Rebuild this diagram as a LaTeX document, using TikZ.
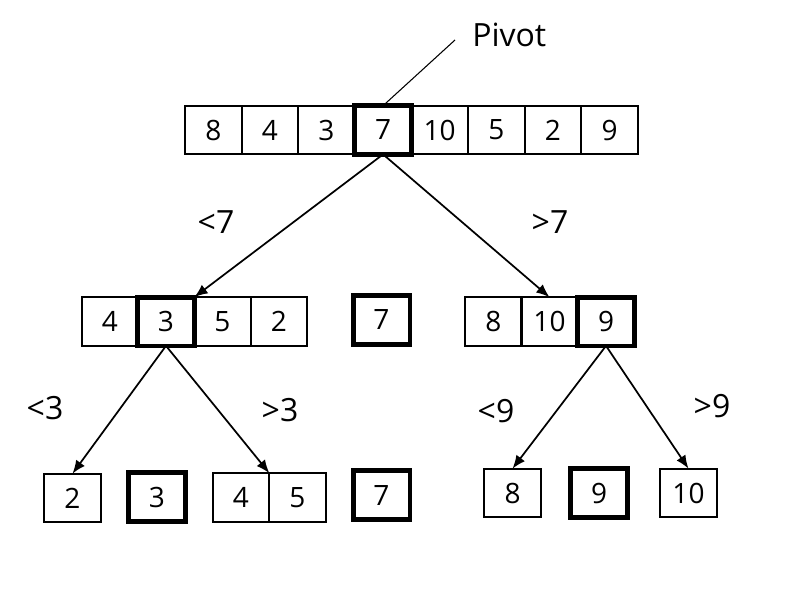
\documentclass[tikz,border=0pt]{standalone}
\usepackage{fontspec}
\setmainfont{Open Sans}
\usetikzlibrary{arrows.meta}
\tikzset{
	cell/.style={
			draw, line width=1.5pt, minimum width=42.5pt, minimum height=36.5pt,
			inner sep=0pt, outer sep=0pt, font=\fontsize{21}{25}\selectfont
		},
	pivotcell/.style={cell, line width=3.5pt},
	cmp/.style={font=\fontsize{24}{28}\selectfont},
	split/.style={-{Latex[length=10pt,width=8pt]}, line width=1.3pt}
}

\begin{document}
\begin{tikzpicture}[x=0.75pt, y=-0.75pt]
	\useasboundingbox (0,0) rectangle (786,593);

	% whole array
	\node[cell] (t1) at (213.3,130) {8};
	\node[cell] (t2) at (269.9,130) {4};
	\node[cell] (t3) at (326.5,130) {3};
	\node[cell] (t5) at (439.7,130) {10};
	\node[cell] (t6) at (496.3,130) {5};
	\node[cell] (t7) at (552.9,130) {2};
	\node[cell] (t8) at (609.5,130) {9};
	\node[pivotcell] (t4) at (383.1,130) {7};

	\node[font=\fontsize{24}{28}\selectfont, anchor=base west, inner sep=0pt] (pivot) at (472,46) {Pivot};
	\coordinate (tag) at (455,40);
	\draw[line width=0.8pt] (t4.north) -- (tag);

	% first split
	\node[cell] (ml1) at (110,321.5) {4};
	\node[cell] (ml3) at (222.5,321.5) {5};
	\node[cell] (ml4) at (279,321.5) {2};
	\node[pivotcell] (ml2) at (166,321.5) {3};
	\node[pivotcell] (mp) at (381.5,320) {7};
	\node[cell] (mr1) at (493.5,321.5) {8};
	\node[cell] (mr2) at (549.5,321.5) {10};
	\node[pivotcell] (mr3) at (606,321.5) {9};

	\draw[split] (t4.south) -- (ml2.north east);
	\draw[split] (t4.south) -- (mr2.north);
	\node[cmp] (lt7) at (216,222) {<7};
	\node[cmp] (gt7) at (550,222) {>7};

	% second split
	\node[cell] (bl1) at (72.5,498) {2};
	\node[pivotcell] (bp3) at (157,497) {3};
	\node[cell] (bm1) at (241,497.5) {4};
	\node[cell] (bm2) at (297.5,497.5) {5};
	\node[pivotcell] (bp7) at (381.5,495) {7};
	\node[cell] (br1) at (512.5,493) {8};
	\node[pivotcell] (bp9) at (599,493) {9};
	\node[cell] (br3) at (688.5,493) {10};

	\draw[split] (ml2.south) -- (bl1.north);
	\draw[split] (ml2.south) -- (bm1.north east);
	\draw[split] (mr3.south) -- (br1.north);
	\draw[split] (mr3.south) -- (br3.north);
	\node[cmp] (lt3) at (45,408) {<3};
	\node[cmp] (gt3) at (280,410) {>3};
	\node[cmp] (lt9) at (496,411) {<9};
	\node[cmp] (gt9) at (712,406) {>9};
\end{tikzpicture}
\end{document}
